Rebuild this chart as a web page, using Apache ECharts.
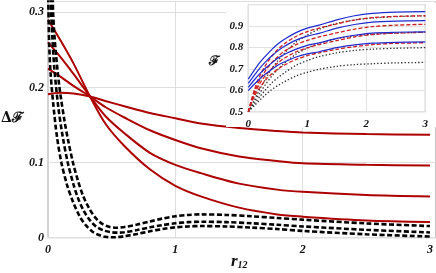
<!DOCTYPE html>
<html><head><meta charset="utf-8">
<script src="https://cdn.jsdelivr.net/npm/echarts@6/dist/echarts.min.js"></script>
<style>html,body{margin:0;padding:0;background:#fff}#c{width:436px;height:273px}</style>
</head><body><div id="c"></div>
<script>
// ---------- main plot data ----------
const mainXTicks = [0, 1, 2, 3];
const mainYTicks = [0, 0.1, 0.2, 0.3];
const xRed = [0, 0.1, 0.2, 0.33, 0.45, 0.6, 0.8, 1.0, 1.2, 1.5, 1.8, 2.0, 2.5, 3.0];
const red1 = [0.290, 0.262, 0.232, 0.188, 0.152, 0.122, 0.091, 0.069, 0.055, 0.040, 0.031, 0.028, 0.023, 0.021];
const red2 = [0.260, 0.240, 0.218, 0.188, 0.162, 0.139, 0.113, 0.097, 0.086, 0.072, 0.064, 0.061, 0.057, 0.055];
const red3 = [0.225, 0.214, 0.202, 0.188, 0.174, 0.160, 0.143, 0.130, 0.119, 0.108, 0.102, 0.099, 0.097, 0.096];
const red4 = [0.191, 0.193, 0.192, 0.188, 0.182, 0.175, 0.166, 0.159, 0.152, 0.146, 0.142, 0.140, 0.138, 0.137];

const xDashA = [0, 0.005, 0.01, 0.02, 0.04, 0.07, 0.105, 0.15, 0.196, 0.25, 0.3, 0.35, 0.4, 0.45, 0.5, 0.55, 0.6, 0.7, 0.8, 0.9, 1.0, 1.1, 1.2, 1.4, 1.6, 1.8, 2.0, 2.5, 3.0];
const dashA = [0.34, 0.29, 0.255, 0.22, 0.18, 0.135, 0.1, 0.07, 0.048, 0.028, 0.016, 0.008, 0.0035, 0.0012, 0.0005, 0.0008, 0.002, 0.005, 0.0085, 0.0115, 0.0138, 0.015, 0.0155, 0.015, 0.0135, 0.0115, 0.009, 0.0045, 0.0015];
const xDashB = [0.02, 0.025, 0.035, 0.05, 0.08, 0.115, 0.155, 0.2, 0.235, 0.28, 0.33, 0.38, 0.44, 0.5, 0.55, 0.6, 0.7, 0.8, 0.9, 1.0, 1.1, 1.2, 1.4, 1.6, 1.8, 2.0, 2.5, 3.0];
const dashB = [0.34, 0.30, 0.265, 0.225, 0.175, 0.135, 0.1, 0.071, 0.053, 0.036, 0.023, 0.0145, 0.0095, 0.0072, 0.0067, 0.0072, 0.0102, 0.0138, 0.0168, 0.0192, 0.0207, 0.0213, 0.0207, 0.0192, 0.0172, 0.015, 0.0105, 0.007];
const xDashC = [0.035, 0.04, 0.05, 0.065, 0.09, 0.13, 0.16, 0.196, 0.235, 0.275, 0.32, 0.37, 0.42, 0.48, 0.54, 0.6, 0.7, 0.8, 0.9, 1.0, 1.1, 1.2, 1.4, 1.6, 1.8, 2.0, 2.5, 3.0];
const dashC = [0.34, 0.30, 0.27, 0.24, 0.2, 0.155, 0.128, 0.1, 0.076, 0.056, 0.04, 0.027, 0.019, 0.0145, 0.0133, 0.0142, 0.0175, 0.0215, 0.0255, 0.0285, 0.0303, 0.031, 0.0303, 0.0285, 0.0262, 0.024, 0.019, 0.0155];

// ---------- inset data ----------
const insetXTicks = [0, 1, 2, 3];
const insetYTicks = [0.5, 0.6, 0.7, 0.8, 0.9];
const xIn = [0, 0.1, 0.2, 0.3, 0.4, 0.5, 0.6, 0.8, 1.0, 1.2, 1.5, 1.8, 2.1, 2.5, 3.0];
const blue1 = [0.652, 0.693, 0.731, 0.762, 0.791, 0.816, 0.836, 0.868, 0.890, 0.904, 0.929, 0.948, 0.959, 0.965, 0.967];
const blue2 = [0.632, 0.670, 0.705, 0.735, 0.761, 0.784, 0.803, 0.833, 0.853, 0.866, 0.890, 0.907, 0.918, 0.923, 0.925];
const blue3 = [0.614, 0.648, 0.679, 0.705, 0.728, 0.749, 0.766, 0.791, 0.810, 0.821, 0.842, 0.857, 0.867, 0.871, 0.873];
const blue4 = [0.598, 0.628, 0.655, 0.678, 0.698, 0.717, 0.731, 0.754, 0.770, 0.780, 0.799, 0.812, 0.820, 0.824, 0.826];
const rdash1 = [0.5, 0.600, 0.670, 0.720, 0.760, 0.790, 0.815, 0.850, 0.874, 0.890, 0.910, 0.928, 0.939, 0.945, 0.948];
const rdash2 = [0.5, 0.590, 0.650, 0.695, 0.730, 0.757, 0.780, 0.812, 0.833, 0.849, 0.868, 0.885, 0.897, 0.904, 0.908];
const rdash3 = [0.5, 0.580, 0.633, 0.672, 0.702, 0.727, 0.748, 0.778, 0.798, 0.813, 0.832, 0.849, 0.860, 0.867, 0.871];
const rdash4 = [0.5, 0.570, 0.615, 0.650, 0.677, 0.698, 0.716, 0.743, 0.762, 0.775, 0.791, 0.804, 0.813, 0.819, 0.822];
const dot1 = [0.5, 0.554, 0.608, 0.657, 0.702, 0.737, 0.769, 0.823, 0.858, 0.885, 0.912, 0.928, 0.937, 0.944, 0.948];
const dot2 = [0.5, 0.545, 0.589, 0.630, 0.667, 0.697, 0.723, 0.767, 0.797, 0.819, 0.841, 0.854, 0.862, 0.867, 0.871];
const dot3 = [0.5, 0.536, 0.572, 0.605, 0.635, 0.658, 0.679, 0.715, 0.739, 0.757, 0.775, 0.786, 0.792, 0.796, 0.799];
const dot4 = [0.5, 0.528, 0.555, 0.581, 0.604, 0.622, 0.638, 0.666, 0.684, 0.698, 0.712, 0.720, 0.724, 0.728, 0.730];

const pairs = (xs, ys) => xs.map((x, i) => [x, ys[i]]);
const lblFont = {fontFamily: 'Liberation Serif', fontStyle: 'italic', fontWeight: 'bold', color: '#111'};
const fmt = v => (v === 0 ? '0' : String(Math.round(v * 10) / 10));

function mainLine(xs, ys, style) {
  return {type: 'line', xAxisIndex: 0, yAxisIndex: 0, data: pairs(xs, ys), showSymbol: false, symbol: 'none',
    smooth: 0.3, clip: true, z: 2, lineStyle: style, silent: true, animation: false};
}
function insetLine(ys, style) {
  return {type: 'line', xAxisIndex: 1, yAxisIndex: 1, data: pairs(xIn, ys), showSymbol: false, symbol: 'none',
    smooth: 0.3, clip: true, z: 12, lineStyle: style, silent: true, animation: false};
}
const redS = {color: '#ad0000', width: 2};
const dashS = {color: '#000', width: 2.6, type: [5, 2.5]};
const blueS = {color: '#1d2bd0', width: 1.2};
const rdS = {color: '#cc2020', width: 1.3, type: [4, 2]};
const dotS = {color: '#333', width: 1.3, type: [1.4, 2]};

const chart = echarts.init(document.getElementById('c'), null, {renderer: 'canvas'});
chart.setOption({
  animation: false,
  backgroundColor: '#fff',
  grid: [
    {left: 48, right: -1, top: 1.5, bottom: 35.3, show: true, borderColor: '#a8a8a8', borderWidth: 1, backgroundColor: 'transparent', z: 0},
    {left: 248.3, right: 10.7, top: 4.6, bottom: 161.3, show: true, borderColor: '#a0a0a0', borderWidth: 1, backgroundColor: 'transparent', z: 10}
  ],
  xAxis: [
    {type: 'value', gridIndex: 0, min: 0, max: 3.046, interval: 1, z: 1,
      axisLine: {show: false}, axisTick: {show: false},
      splitLine: {show: true, lineStyle: {color: ['rgba(0,0,0,0)', '#dedede', '#dedede', 'rgba(0,0,0,0)', 'rgba(0,0,0,0)'], width: 1}},
      axisLabel: Object.assign({fontSize: 12, margin: 6, showMaxLabel: false, formatter: fmt}, lblFont)},
    {type: 'value', gridIndex: 1, min: 0, max: 3, interval: 1, z: 11,
      axisLine: {show: false}, axisTick: {show: false},
      splitLine: {show: true, lineStyle: {color: '#e2e2e2', width: 1}},
      axisLabel: Object.assign({fontSize: 11, margin: 7, formatter: fmt}, lblFont)}
  ],
  yAxis: [
    {type: 'value', gridIndex: 0, min: 0, max: 0.3144, interval: 0.1, z: 1,
      axisLine: {show: false}, axisTick: {show: false},
      splitLine: {show: true, lineStyle: {color: '#dedede', width: 1}},
      axisLabel: Object.assign({fontSize: 12, margin: 4, showMaxLabel: false, formatter: fmt}, lblFont)},
    {type: 'value', gridIndex: 1, min: 0.5, max: 1.0, interval: 0.1, z: 11,
      axisLine: {show: false}, axisTick: {show: false},
      splitLine: {show: true, lineStyle: {color: '#e2e2e2', width: 1}},
      axisLabel: Object.assign({fontSize: 11, margin: 5, showMaxLabel: false, formatter: fmt}, lblFont)}
  ],
  graphic: {elements: [
    {type: 'rect', z: 5, shape: {x: 226, y: 3, width: 212, height: 124}, style: {fill: '#fff'}, silent: true},
    {type: 'text', z: 20, x: 1, y: 118, style: {text: 'Δℱ', font: 'bold 14px "DejaVu Serif"', fill: '#111', textAlign: 'left', textVerticalAlign: 'middle'}},
    {type: 'text', z: 20, x: 214, y: 62, style: {text: 'ℱ', font: 'bold 13px "DejaVu Serif"', fill: '#111', textAlign: 'center', textVerticalAlign: 'middle'}},
    {type: 'text', z: 20, x: 231, y: 262, style: {text: '{r|r}{s|12}', textAlign: 'left', textVerticalAlign: 'middle',
      rich: {r: {fontFamily: 'Liberation Serif', fontStyle: 'italic', fontWeight: 'bold', fontSize: 17, fill: '#111', color: '#111'},
             s: {fontFamily: 'Liberation Serif', fontStyle: 'italic', fontWeight: 'bold', fontSize: 10, fill: '#111', color: '#111', verticalAlign: 'bottom', padding: [6, 0, 0, 0]}}}}
  ]},
  series: [
    mainLine(xRed, red1, redS), mainLine(xRed, red2, redS), mainLine(xRed, red3, redS), mainLine(xRed, red4, redS),
    mainLine(xDashA, dashA, dashS), mainLine(xDashB, dashB, dashS), mainLine(xDashC, dashC, dashS),
    insetLine(dot1, dotS), insetLine(dot2, dotS), insetLine(dot3, dotS), insetLine(dot4, dotS),
    insetLine(rdash1, rdS), insetLine(rdash2, rdS), insetLine(rdash3, rdS), insetLine(rdash4, rdS),
    insetLine(blue1, blueS), insetLine(blue2, blueS), insetLine(blue3, blueS), insetLine(blue4, blueS)
  ]
});
</script></body></html>
